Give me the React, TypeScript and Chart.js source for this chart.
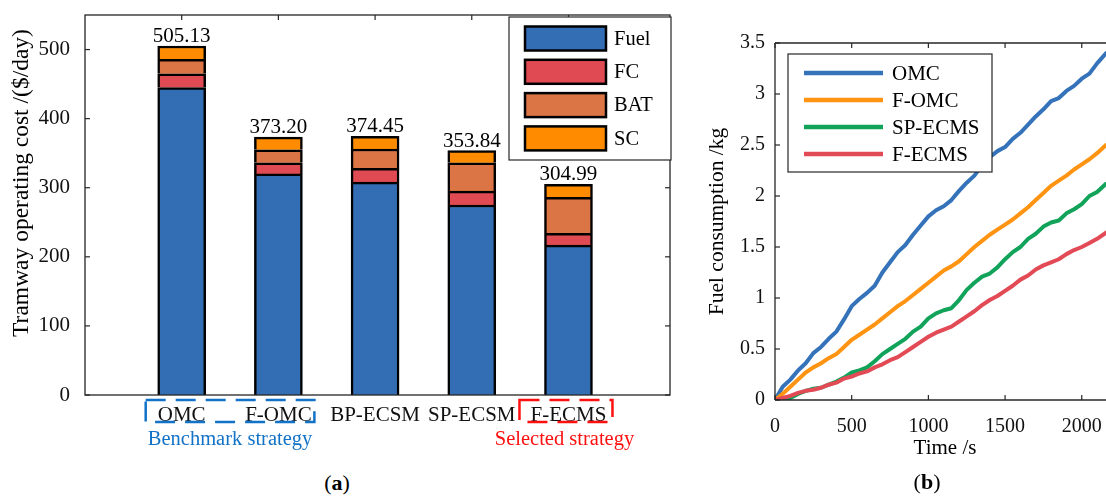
import React, { useEffect, useRef } from 'react';
import { Chart, registerables } from 'chart.js';

Chart.register(...registerables);

const SERIF = '"Liberation Serif", "Times New Roman", serif';
const AXIS = '#262626';
const TEXT = '#111111';
const BLUE_NOTE = '#1272C8';
const RED_NOTE = '#FF1010';

// ---------- (a) Tramway operating cost ----------
const strategies = ['OMC', 'F-OMC', 'BP-ECSM', 'SP-ECSM', 'F-ECMS'];
const fuelCost = [445, 320, 308, 275, 217];
const fcCost = [20, 16, 20, 20, 17];
const batCost = [21, 19, 28, 41, 52];
const scCost = [19.13, 18.2, 18.45, 17.84, 18.99];
const totalCost = [505.13, 373.2, 374.45, 353.84, 304.99];
const costTicks = [0, 100, 200, 300, 400, 500];
const segmentLabels = ['Fuel', 'FC', 'BAT', 'SC'];
const segmentColors = ['#336EB5', '#E04A53', '#DC7545', '#FF8C00'];

// ---------- (b) Fuel consumption ----------
const timeS = [
  0, 50, 100, 150, 200, 250, 300, 350, 400, 450,
  500, 550, 600, 650, 700, 750, 800, 850, 900, 950,
  1000, 1050, 1100, 1150, 1200, 1250, 1300, 1350, 1400, 1450,
  1500, 1550, 1600, 1650, 1700, 1750, 1800, 1850, 1900, 1950,
  2000, 2050, 2100, 2158,
];
const omcKg = [
  0, 0.13, 0.2, 0.29, 0.36, 0.46, 0.52, 0.6, 0.67, 0.79,
  0.92, 0.99, 1.05, 1.12, 1.25, 1.35, 1.45, 1.52, 1.62, 1.71,
  1.8, 1.86, 1.9, 1.96, 2.05, 2.13, 2.2, 2.3, 2.38, 2.44,
  2.48, 2.56, 2.62, 2.7, 2.78, 2.85, 2.93, 2.96, 3.03, 3.08,
  3.15, 3.2, 3.3, 3.4,
];
const fOmcKg = [
  0, 0.06, 0.13, 0.2, 0.27, 0.32, 0.36, 0.41, 0.45, 0.52,
  0.59, 0.64, 0.69, 0.74, 0.8, 0.86, 0.92, 0.97, 1.03, 1.09,
  1.15, 1.21, 1.27, 1.31, 1.36, 1.43, 1.5, 1.56, 1.62, 1.67,
  1.72, 1.77, 1.83, 1.89, 1.96, 2.03, 2.1, 2.15, 2.2, 2.26,
  2.31, 2.36, 2.42, 2.5,
];
const spEcmsKg = [
  0, 0, 0.02, 0.06, 0.09, 0.11, 0.12, 0.15, 0.18, 0.22,
  0.27, 0.29, 0.32, 0.38, 0.45, 0.5, 0.55, 0.6, 0.67, 0.72,
  0.8, 0.85, 0.88, 0.9, 0.98, 1.08, 1.15, 1.21, 1.24, 1.3,
  1.38, 1.45, 1.5, 1.58, 1.63, 1.7, 1.74, 1.76, 1.83, 1.87,
  1.92, 2.0, 2.04, 2.12,
];
const fEcmsKg = [
  0, 0.02, 0.04, 0.07, 0.09, 0.1, 0.12, 0.15, 0.17, 0.21,
  0.23, 0.26, 0.28, 0.32, 0.35, 0.39, 0.42, 0.47, 0.52, 0.57,
  0.62, 0.66, 0.69, 0.72, 0.77, 0.82, 0.87, 0.93, 0.98, 1.02,
  1.07, 1.12, 1.18, 1.22, 1.28, 1.32, 1.35, 1.38, 1.43, 1.47,
  1.5, 1.54, 1.58, 1.64,
];
const curveLabels = ['OMC', 'F-OMC', 'SP-ECMS', 'F-ECMS'];
const curveColors = ['#3472B9', '#FF9312', '#12A35B', '#E24A55'];
const timeTicks = [0, 500, 1000, 1500, 2000];
const kgTicks = [0, 0.5, 1, 1.5, 2, 2.5, 3, 3.5];

const TL = 5; // inward tick length

function seg(ctx: any, x1: number, y1: number, x2: number, y2: number) {
  ctx.beginPath();
  ctx.moveTo(x1, y1);
  ctx.lineTo(x2, y2);
  ctx.stroke();
}

const leftDecor = {
  id: 'leftDecor',
  beforeDatasetsDraw(chart: any) {
    const { ctx, chartArea: a } = chart;
    const xs = chart.scales.x;
    const ys = chart.scales.y;
    ctx.save();
    ctx.strokeStyle = AXIS;
    ctx.lineWidth = 1.2;
    costTicks.forEach((v) => {
      const py = ys.getPixelForValue(v);
      seg(ctx, a.left, py, a.left + TL, py);
      seg(ctx, a.right, py, a.right - TL, py);
    });
    strategies.forEach((_, i) => {
      const px = xs.getPixelForValue(i + 1);
      seg(ctx, px, a.bottom, px, a.bottom - TL);
      seg(ctx, px, a.top, px, a.top + TL);
    });
    ctx.restore();
  },
  afterDatasetsDraw(chart: any) {
    const { ctx, chartArea: a } = chart;
    const xs = chart.scales.x;
    const ys = chart.scales.y;
    ctx.save();
    // axes box
    ctx.strokeStyle = AXIS;
    ctx.lineWidth = 1.3;
    ctx.strokeRect(a.left, a.top, a.right - a.left, a.bottom - a.top);

    // totals above bars
    ctx.fillStyle = '#000';
    ctx.font = `21px ${SERIF}`;
    ctx.textAlign = 'center';
    ctx.textBaseline = 'alphabetic';
    totalCost.forEach((t, i) => {
      ctx.fillText(t.toFixed(2), xs.getPixelForValue(i + 1), ys.getPixelForValue(t) - 4);
    });

    // legend
    const lw = 162;
    const lh = 143;
    const lx = a.right - lw + 1;
    const ly = a.top + 2;
    ctx.fillStyle = '#fff';
    ctx.fillRect(lx, ly, lw, lh);
    ctx.strokeStyle = AXIS;
    ctx.lineWidth = 1.2;
    ctx.strokeRect(lx, ly, lw, lh);
    segmentLabels.forEach((lab, k) => {
      const cy = ly + 21.5 + k * 33.3;
      ctx.fillStyle = segmentColors[k];
      ctx.fillRect(lx + 16, cy - 12, 81, 24);
      ctx.strokeStyle = '#000';
      ctx.lineWidth = 2.5;
      ctx.strokeRect(lx + 16, cy - 12, 81, 24);
      ctx.fillStyle = '#000';
      ctx.font = `20.5px ${SERIF}`;
      ctx.textAlign = 'left';
      ctx.textBaseline = 'middle';
      ctx.fillText(lab, lx + 105, cy + 1);
    });

    // dashed group boxes
    const p1 = xs.getPixelForValue(1);
    const p2 = xs.getPixelForValue(2);
    const p5 = xs.getPixelForValue(5);
    ctx.setLineDash([20, 10]);
    ctx.lineWidth = 2.5;
    ctx.strokeStyle = BLUE_NOTE;
    ctx.strokeRect(p1 - 36, a.bottom + 5, p2 - p1 + 72, 22);
    ctx.strokeStyle = RED_NOTE;
    ctx.strokeRect(p5 - 49, a.bottom + 5, 93, 22);
    ctx.setLineDash([]);

    ctx.font = `20.5px ${SERIF}`;
    ctx.textAlign = 'center';
    ctx.textBaseline = 'middle';
    ctx.fillStyle = BLUE_NOTE;
    ctx.fillText('Benchmark strategy', (p1 + p2) / 2, a.bottom + 45);
    ctx.fillStyle = RED_NOTE;
    ctx.fillText('Selected strategy', p5 - 4, a.bottom + 45);

    // y title
    ctx.fillStyle = '#000';
    ctx.font = `23.5px ${SERIF}`;
    ctx.translate(22, 183);
    ctx.rotate(-Math.PI / 2);
    ctx.fillText('Tramway operating cost /($/day)', 0, 0);
    ctx.restore();
  },
};

const rightDecor = {
  id: 'rightDecor',
  afterDatasetsDraw(chart: any) {
    const { ctx, chartArea: a } = chart;
    const xs = chart.scales.x;
    const ys = chart.scales.y;
    ctx.save();
    ctx.strokeStyle = AXIS;
    ctx.lineWidth = 1.3;
    seg(ctx, a.left, a.top, a.right + 2, a.top);
    seg(ctx, a.left, a.bottom, a.right + 2, a.bottom);
    seg(ctx, a.left, a.top, a.left, a.bottom);
    ctx.lineWidth = 1.2;
    kgTicks.forEach((v) => {
      const py = ys.getPixelForValue(v);
      seg(ctx, a.left, py, a.left + TL, py);
    });
    timeTicks.forEach((v) => {
      const px = xs.getPixelForValue(v);
      seg(ctx, px, a.bottom, px, a.bottom - TL);
      seg(ctx, px, a.top, px, a.top + TL);
    });

    // legend
    const lx = a.left + 13;
    const ly = a.top + 11;
    const lw = 204;
    const lh = 118;
    ctx.fillStyle = '#fff';
    ctx.fillRect(lx, ly, lw, lh);
    ctx.strokeStyle = AXIS;
    ctx.lineWidth = 1.2;
    ctx.strokeRect(lx, ly, lw, lh);
    curveLabels.forEach((lab, k) => {
      const cy = ly + 19 + k * 27;
      ctx.strokeStyle = curveColors[k];
      ctx.lineWidth = 4.5;
      seg(ctx, lx + 16, cy, lx + 95, cy);
      ctx.fillStyle = '#000';
      ctx.font = `21px ${SERIF}`;
      ctx.textAlign = 'left';
      ctx.textBaseline = 'middle';
      ctx.fillText(lab, lx + 104, cy + 1);
    });

    // titles
    ctx.fillStyle = '#000';
    ctx.textAlign = 'center';
    ctx.textBaseline = 'middle';
    ctx.font = `21px ${SERIF}`;
    ctx.fillText('Time /s', 255, 448);
    ctx.save();
    ctx.font = `21.5px ${SERIF}`;
    ctx.translate(27, (a.top + a.bottom) / 2);
    ctx.rotate(-Math.PI / 2);
    ctx.fillText('Fuel consumption /kg', 0, 0);
    ctx.restore();
    ctx.restore();
  },
};

export default function App() {
  const leftRef = useRef<HTMLCanvasElement>(null);
  const rightRef = useRef<HTMLCanvasElement>(null);

  useEffect(() => {
    const segments = [fuelCost, fcCost, batCost, scCost];
    const left = new Chart(leftRef.current as HTMLCanvasElement, {
      type: 'bar',
      data: {
        datasets: segments.map((vals, k) => ({
          label: segmentLabels[k],
          data: vals.map((v, i) => ({ x: i + 1, y: v })),
          backgroundColor: segmentColors[k],
          borderColor: '#000',
          borderWidth: 2.5,
          borderSkipped: 'start',
          barThickness: 48,
        })),
      } as any,
      options: {
        responsive: false,
        animation: false,
        layout: { padding: { top: 15, right: 20, left: 0, bottom: 0 } },
        plugins: { legend: { display: false }, tooltip: { enabled: false } },
        scales: {
          x: {
            type: 'linear',
            min: 0,
            max: 6.05,
            stacked: true,
            offset: false,
            grid: { display: false, drawTicks: false, offset: false },
            border: { display: false },
            afterBuildTicks: (s: any) => {
              s.ticks = strategies.map((_, i) => ({ value: i + 1 }));
            },
            afterFit: (s: any) => {
              s.height = 75;
              s.paddingLeft = 0;
              s.paddingRight = 0;
            },
            ticks: {
              padding: 8,
              color: TEXT,
              font: { family: SERIF, size: 21 },
              maxRotation: 0,
              autoSkip: false,
              callback: (v: any) => strategies[Math.round(Number(v)) - 1] ?? '',
            },
          },
          y: {
            min: 0,
            max: 550,
            stacked: true,
            grid: { display: false, drawTicks: false },
            border: { display: false },
            afterBuildTicks: (s: any) => {
              s.ticks = costTicks.map((v) => ({ value: v }));
            },
            afterFit: (s: any) => {
              s.width = 85;
              s.paddingTop = 0;
              s.paddingBottom = 0;
            },
            ticks: {
              padding: 15,
              color: TEXT,
              font: { family: SERIF, size: 21 },
              callback: (v: any) => String(v),
            },
          },
        },
      } as any,
      plugins: [leftDecor],
    });

    const curves = [omcKg, fOmcKg, spEcmsKg, fEcmsKg];
    const right = new Chart(rightRef.current as HTMLCanvasElement, {
      type: 'line',
      data: {
        datasets: curves.map((vals, k) => ({
          label: curveLabels[k],
          data: vals.map((v, i) => ({ x: timeS[i], y: v })),
          borderColor: curveColors[k],
          borderWidth: 4,
          pointRadius: 0,
          tension: 0,
          fill: false,
          order: 3 - k,
          borderJoinStyle: 'round',
          borderCapStyle: 'round',
        })),
      } as any,
      options: {
        responsive: false,
        animation: false,
        layout: { padding: { top: 43, right: 0, left: 0, bottom: 0 } },
        plugins: { legend: { display: false }, tooltip: { enabled: false } },
        scales: {
          x: {
            type: 'linear',
            min: 0,
            max: 2158,
            grid: { display: false, drawTicks: false },
            border: { display: false },
            afterBuildTicks: (s: any) => {
              s.ticks = timeTicks.map((v) => ({ value: v }));
            },
            afterFit: (s: any) => {
              s.height = 70;
              s.paddingLeft = 0;
              s.paddingRight = 0;
            },
            ticks: {
              padding: 15,
              color: TEXT,
              font: { family: SERIF, size: 20 },
              maxRotation: 0,
              autoSkip: false,
              callback: (v: any) => String(v),
            },
          },
          y: {
            min: 0,
            max: 3.5,
            grid: { display: false, drawTicks: false },
            border: { display: false },
            afterBuildTicks: (s: any) => {
              s.ticks = kgTicks.map((v) => ({ value: v }));
            },
            afterFit: (s: any) => {
              s.width = 85;
              s.paddingTop = 0;
              s.paddingBottom = 0;
            },
            ticks: {
              padding: 10,
              color: TEXT,
              font: { family: SERIF, size: 20 },
              callback: (v: any) => String(v),
            },
          },
        },
      } as any,
      plugins: [rightDecor],
    });

    return () => {
      left.destroy();
      right.destroy();
    };
  }, []);

  const panelLabel = (letter: string, cx: number, cy: number) => (
    <div
      style={{
        position: 'absolute',
        left: cx,
        top: cy,
        transform: 'translate(-50%, -50%)',
        fontFamily: SERIF,
        fontSize: 22,
        lineHeight: 1,
        color: '#000',
        whiteSpace: 'nowrap',
      }}
    >
      (<b>{letter}</b>)
    </div>
  );

  return (
    <div
      style={{
        position: 'fixed',
        left: 0,
        top: 0,
        width: 1106,
        height: 497,
        overflow: 'hidden',
        background: '#fff',
      }}
    >
      <canvas
        ref={leftRef}
        width={690}
        height={470}
        style={{ position: 'absolute', left: 0, top: 0, width: 690, height: 470 }}
      />
      <canvas
        ref={rightRef}
        width={416}
        height={470}
        style={{ position: 'absolute', left: 690, top: 0, width: 416, height: 470 }}
      />
      {panelLabel('a', 337, 483)}
      {panelLabel('b', 927, 482)}
    </div>
  );
}
